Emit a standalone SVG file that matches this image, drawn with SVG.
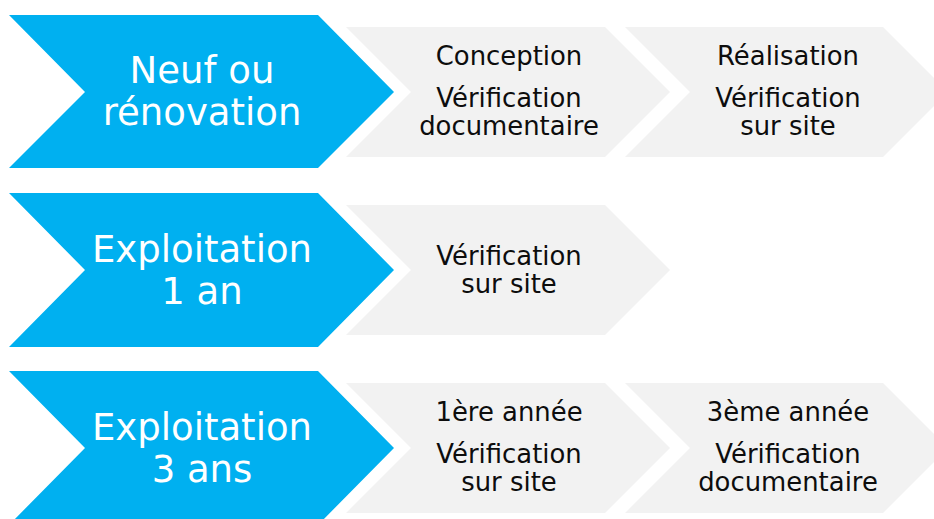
<svg xmlns="http://www.w3.org/2000/svg" width="934" height="519" viewBox="0 0 934 519">
<style>
.blue{fill:#00B0F0}
.gray{fill:#F2F2F2}
.bt{font-family:"DejaVu Sans",Verdana,sans-serif;font-size:37px;fill:#FFFFFF;text-anchor:middle}
.gt{font-family:"DejaVu Sans",Verdana,sans-serif;font-size:25.9px;fill:#0D0D0D;text-anchor:middle}
</style>
<rect width="934" height="519" fill="#FFFFFF"/>
<g id="row1-main">
<polygon class="blue" points="9,15 318,15 394,92 318,168 9,168 85,92"/>
<text class="bt" x="202" y="83">Neuf ou</text>
<text class="bt" x="202" y="125">rénovation</text>
</g>
<g id="row1-step1">
<polygon class="gray" points="346,27 605,27 670,92 605,157 346,157 411,92"/>
<text class="gt" x="509" y="65">Conception</text>
<text class="gt" x="509" y="107">Vérification</text>
<text class="gt" x="509" y="135">documentaire</text>
</g>
<g id="row1-step2">
<polygon class="gray" points="625,27 883,27 948,92 883,157 625,157 690,92"/>
<text class="gt" x="788" y="65">Réalisation</text>
<text class="gt" x="788" y="107">Vérification</text>
<text class="gt" x="788" y="135">sur site</text>
</g>
<g id="row2-main">
<polygon class="blue" points="9,193 318,193 394,270 318,347 9,347 85,270"/>
<text class="bt" x="202" y="262">Exploitation</text>
<text class="bt" x="202" y="304">1 an</text>
</g>
<g id="row2-step1">
<polygon class="gray" points="346,205 605,205 670,270 605,335 346,335 411,270"/>
<text class="gt" x="509" y="265">Vérification</text>
<text class="gt" x="509" y="293">sur site</text>
</g>
<g id="row3-main">
<polygon class="blue" points="9,371 318,371 394,448 318,525 9,525 85,448"/>
<text class="bt" x="202" y="440">Exploitation</text>
<text class="bt" x="202" y="482">3 ans</text>
</g>
<g id="row3-step1">
<polygon class="gray" points="346,383 605,383 670,448 605,513 346,513 411,448"/>
<text class="gt" x="509" y="421">1ère année</text>
<text class="gt" x="509" y="463">Vérification</text>
<text class="gt" x="509" y="491">sur site</text>
</g>
<g id="row3-step2">
<polygon class="gray" points="625,383 883,383 948,448 883,513 625,513 690,448"/>
<text class="gt" x="788" y="421">3ème année</text>
<text class="gt" x="788" y="463">Vérification</text>
<text class="gt" x="788" y="491">documentaire</text>
</g>
<g id="connectors"></g>
</svg>
